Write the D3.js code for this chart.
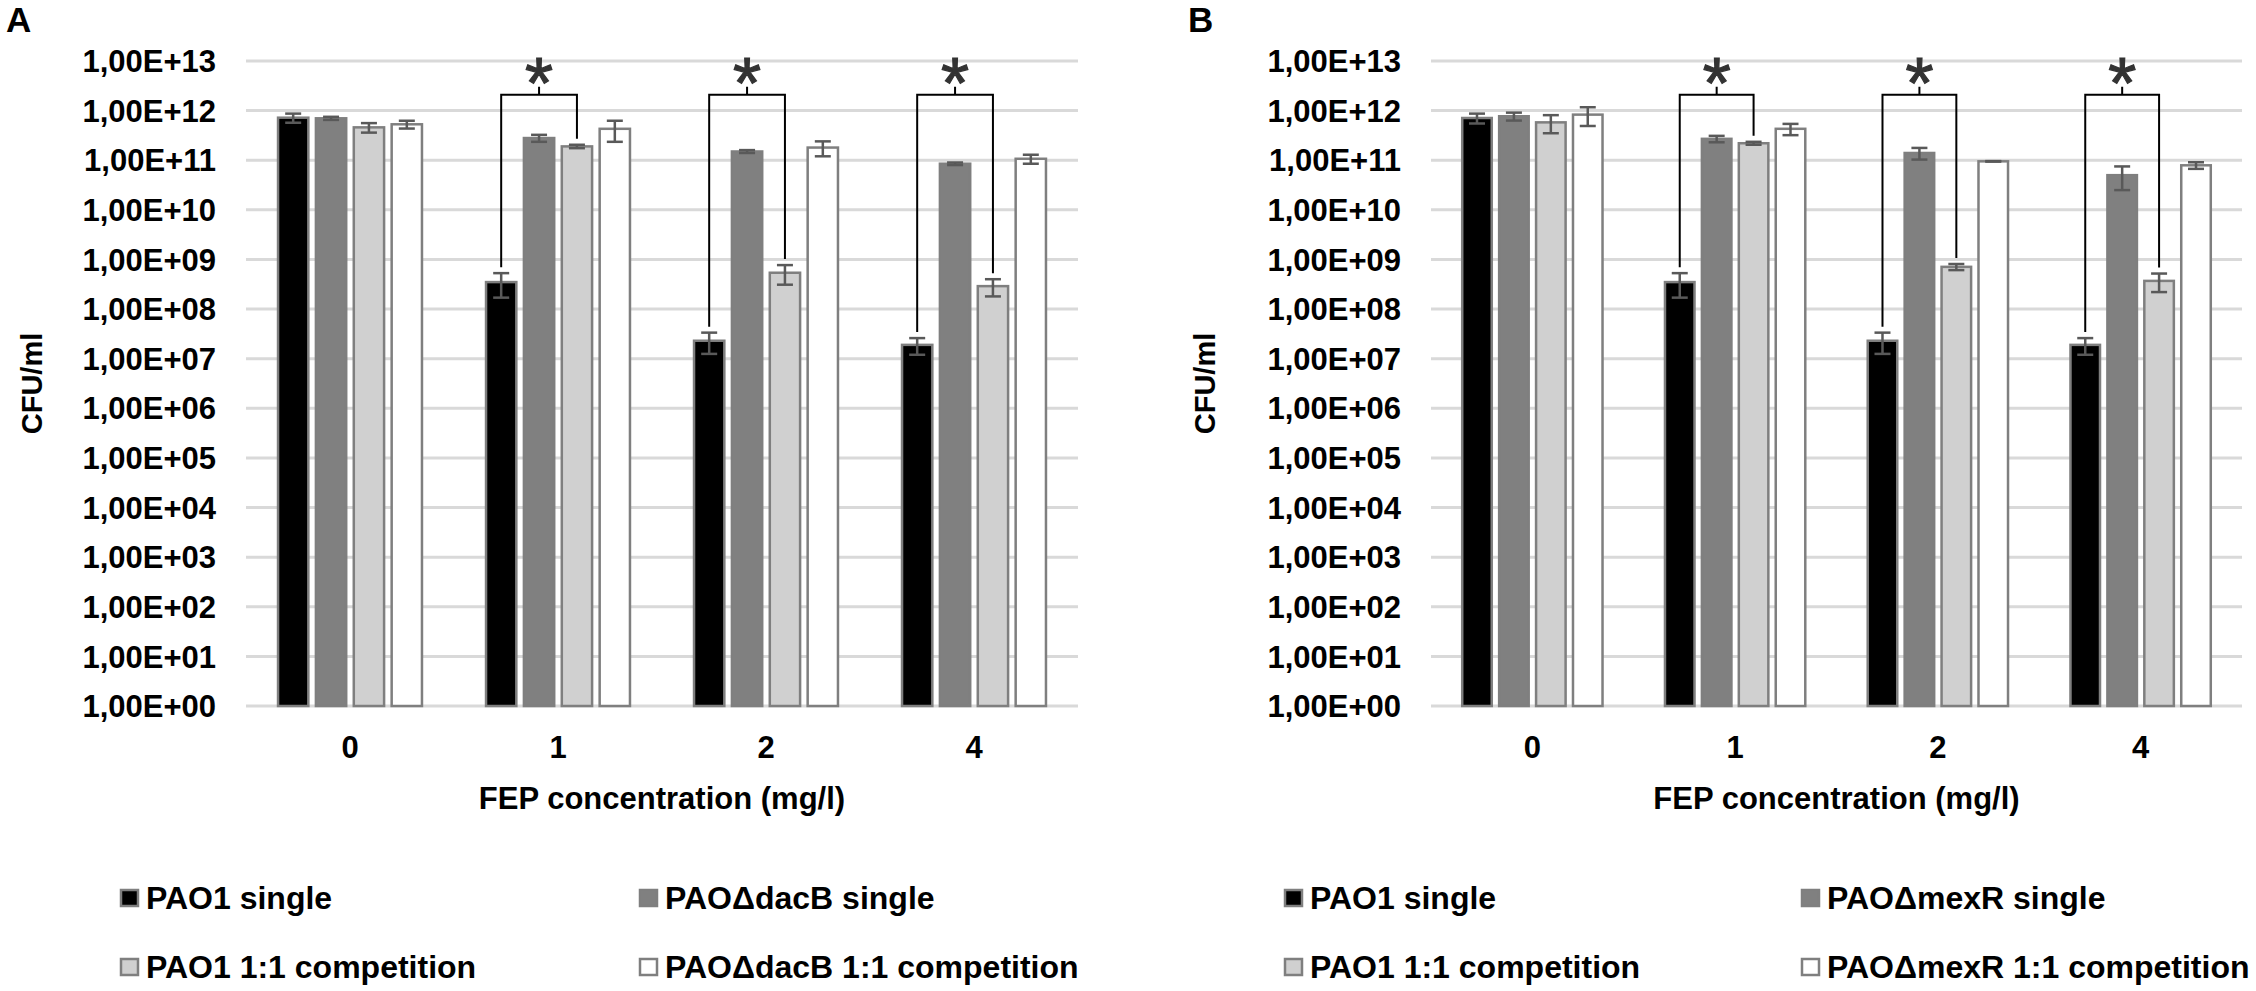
<!DOCTYPE html>
<html>
<head>
<meta charset="utf-8">
<script src="https://cdn.jsdelivr.net/npm/d3@7"></script>
<style>
  body { margin: 0; background: #fff; }
  text { font-family: "Liberation Sans", Arial, sans-serif; }
</style>
</head>
<body>
<script>
// FEP concentrations (x axis categories)
var concentrations = ["0", "1", "2", "4"];

// y axis ticks (log scale, CFU/ml)
var yTickValues = [1e0, 1e1, 1e2, 1e3, 1e4, 1e5, 1e6, 1e7, 1e8, 1e9, 1e10, 1e11, 1e12, 1e13];

// panel A : PAO1 vs PAOΔdacB
var dacbLegend = ["PAO1 single", "PAO\u0394dacB single", "PAO1 1:1 competition", "PAO\u0394dacB 1:1 competition"];
var dacbPao1Single = [7.2e11, 3.5e8, 2.3e7, 1.9e7];
var dacbPao1SingleErr = [1.5e11, 1.8e8, 1.05e7, 0.7e7];
var dacbMutSingle = [7.0e11, 2.8e11, 1.5e11, 8.5e10];
var dacbMutSingleErr = [0.5e11, 0.45e11, 0.1e11, 0.5e10];
var dacbPao1Comp = [4.6e11, 1.9e11, 5.4e8, 2.9e8];
var dacbPao1CompErr = [1.0e11, 0.15e11, 2.3e8, 1.1e8];
var dacbMutComp = [5.3e11, 4.3e11, 1.8e11, 1.07e11];
var dacbMutCompErr = [0.95e11, 1.95e11, 0.6e11, 0.22e11];

// panel B : PAO1 vs PAOΔmexR
var mexrLegend = ["PAO1 single", "PAO\u0394mexR single", "PAO1 1:1 competition", "PAO\u0394mexR 1:1 competition"];
var mexrPao1Single = [7.1e11, 3.5e8, 2.3e7, 1.9e7];
var mexrPao1SingleErr = [1.6e11, 1.8e8, 1.05e7, 0.7e7];
var mexrMutSingle = [7.7e11, 2.7e11, 1.4e11, 5.0e10];
var mexrMutSingleErr = [1.4e11, 0.4e11, 0.37e11, 2.5e10];
var mexrPao1Comp = [5.8e11, 2.2e11, 7.1e8, 3.7e8];
var mexrPao1CompErr = [2.3e11, 0.15e11, 1.0e8, 1.5e8];
var mexrMutComp = [8.3e11, 4.3e11, 9.5e10, 7.9e10];
var mexrMutCompErr = [3.4e11, 1.1e11, 0.1e10, 1.2e10];

// significance: PAO1 single vs PAO1 competition
var significantGroups = ["1", "2", "4"];
var bracketLevel = 2.1e12;

var barFills = ["#000000", "#808080", "#d0d0d0", "#ffffff"];

var svgWidth = 2256;
var svgHeight = 991;

var svg = d3.select("body")
  .append("svg")
  .attr("width", svgWidth)
  .attr("height", svgHeight);

var y = d3.scaleLog()
  .domain([1, 1e13])
  .range([706, 61]);

function fmtTick(v) {
  var e = Math.round(Math.log10(v));
  return "1,00E+" + (e < 10 ? "0" + e : e);
}

function addText(x, yy, str, size, anchor) {
  return svg.append("text")
    .attr("x", x)
    .attr("y", yy)
    .attr("text-anchor", anchor || "middle")
    .attr("dy", "0.36em")
    .attr("font-size", size)
    .attr("font-weight", "bold")
    .attr("fill", "#000")
    .text(str);
}

function drawPanel(p) {
  var x0 = d3.scaleBand()
    .domain(concentrations)
    .range([p.left, p.right])
    .paddingInner(0.308)
    .paddingOuter(0.154);

  var x1 = d3.scaleBand()
    .domain(d3.range(4))
    .range([0, x0.bandwidth()])
    .paddingInner(0.2);

  // gridlines
  svg.append("g")
    .selectAll("line")
    .data(yTickValues)
    .enter()
    .append("line")
    .attr("x1", p.left)
    .attr("x2", p.right)
    .attr("y1", d => y(d))
    .attr("y2", d => y(d))
    .attr("stroke", "#d9d9d9")
    .attr("stroke-width", 3);

  // y tick labels
  yTickValues.forEach(function(v) {
    addText(p.labelRight, y(v), fmtTick(v), 31, "end");
  });

  var rows = [];
  concentrations.forEach(function(c, i) {
    p.series.forEach(function(s, k) {
      rows.push({ group: c, k: k, value: s.values[i], err: s.err[i] });
    });
  });

  svg.append("g")
    .selectAll("rect")
    .data(rows)
    .enter()
    .append("rect")
    .attr("x", d => x0(d.group) + x1(d.k))
    .attr("y", d => y(d.value))
    .attr("width", x1.bandwidth())
    .attr("height", d => y(1) - y(d.value))
    .attr("fill", d => barFills[d.k])
    .attr("stroke", "#7f7f7f")
    .attr("stroke-width", 2.5);

  // error bars
  var eb = svg.append("g")
    .attr("stroke", "#595959")
    .attr("stroke-width", 2.5);
  rows.forEach(function(d) {
    var cx = x0(d.group) + x1(d.k) + x1.bandwidth() / 2;
    var hi = y(d.value + d.err), lo = y(d.value - d.err);
    eb.append("line").attr("x1", cx).attr("x2", cx).attr("y1", hi).attr("y2", lo);
    eb.append("line").attr("x1", cx - 8).attr("x2", cx + 8).attr("y1", hi).attr("y2", hi);
    eb.append("line").attr("x1", cx - 8).attr("x2", cx + 8).attr("y1", lo).attr("y2", lo);
  });

  // significance brackets
  significantGroups.forEach(function(c) {
    var i = concentrations.indexOf(c);
    var a = p.series[0], b = p.series[2];
    var xa = x0(c) + x1(0) + x1.bandwidth() / 2;
    var xb = x0(c) + x1(2) + x1.bandwidth() / 2;
    var yTop = y(bracketLevel);
    var ya = y(a.values[i] + a.err[i]) - 6;
    var yb = y(b.values[i] + b.err[i]) - 6;
    var xm = (xa + xb) / 2;
    svg.append("path")
      .attr("d", `M${xa},${ya}V${yTop}H${xb}V${yb}M${xm},${yTop}V${yTop - 8}`)
      .attr("fill", "none")
      .attr("stroke", "#000")
      .attr("stroke-width", 2);
    svg.append("text")
      .attr("x", xm)
      .attr("y", yTop + 13)
      .attr("text-anchor", "middle")
      .attr("font-size", 72)
      .attr("fill", "#333")
      .attr("stroke", "#333")
      .attr("stroke-width", 1.2)
      .text("*");
  });

  // x tick labels
  concentrations.forEach(function(c) {
    addText(x0(c) + x0.bandwidth() / 2, 747, c, 31, "middle");
  });

  // axis titles
  addText((p.left + p.right) / 2, 798, "FEP concentration (mg/l)", 31, "middle");
  svg.append("text")
    .attr("transform", `translate(${p.yTitleX},${(y(1) + y(1e13)) / 2}) rotate(-90)`)
    .attr("text-anchor", "middle")
    .attr("dy", "0.36em")
    .attr("font-size", 29)
    .attr("font-weight", "bold")
    .text("CFU/ml");

  // panel letter
  svg.append("text")
    .attr("x", p.letterX)
    .attr("y", 32)
    .attr("font-size", 35)
    .attr("font-weight", "bold")
    .text(p.letter);

  // legend
  p.legend.forEach(function(name, k) {
    var lx = p.legendX[k % 2];
    var ly = [897, 966][Math.floor(k / 2)];
    svg.append("rect")
      .attr("x", lx)
      .attr("y", ly - 7)
      .attr("width", 17)
      .attr("height", 16)
      .attr("fill", barFills[k])
      .attr("stroke", "#7f7f7f")
      .attr("stroke-width", 2.5);
    addText(lx + 25, ly, name, 32, "start");
  });
}

drawPanel({
  letter: "A", letterX: 6,
  left: 246, right: 1078, labelRight: 216, yTitleX: 32,
  legend: dacbLegend, legendX: [121, 640],
  series: [
    { values: dacbPao1Single, err: dacbPao1SingleErr },
    { values: dacbMutSingle, err: dacbMutSingleErr },
    { values: dacbPao1Comp, err: dacbPao1CompErr },
    { values: dacbMutComp, err: dacbMutCompErr }
  ]
});

drawPanel({
  letter: "B", letterX: 1188,
  left: 1431, right: 2242, labelRight: 1401, yTitleX: 1205,
  legend: mexrLegend, legendX: [1285, 1802],
  series: [
    { values: mexrPao1Single, err: mexrPao1SingleErr },
    { values: mexrMutSingle, err: mexrMutSingleErr },
    { values: mexrPao1Comp, err: mexrPao1CompErr },
    { values: mexrMutComp, err: mexrMutCompErr }
  ]
});
</script>
</body>
</html>
